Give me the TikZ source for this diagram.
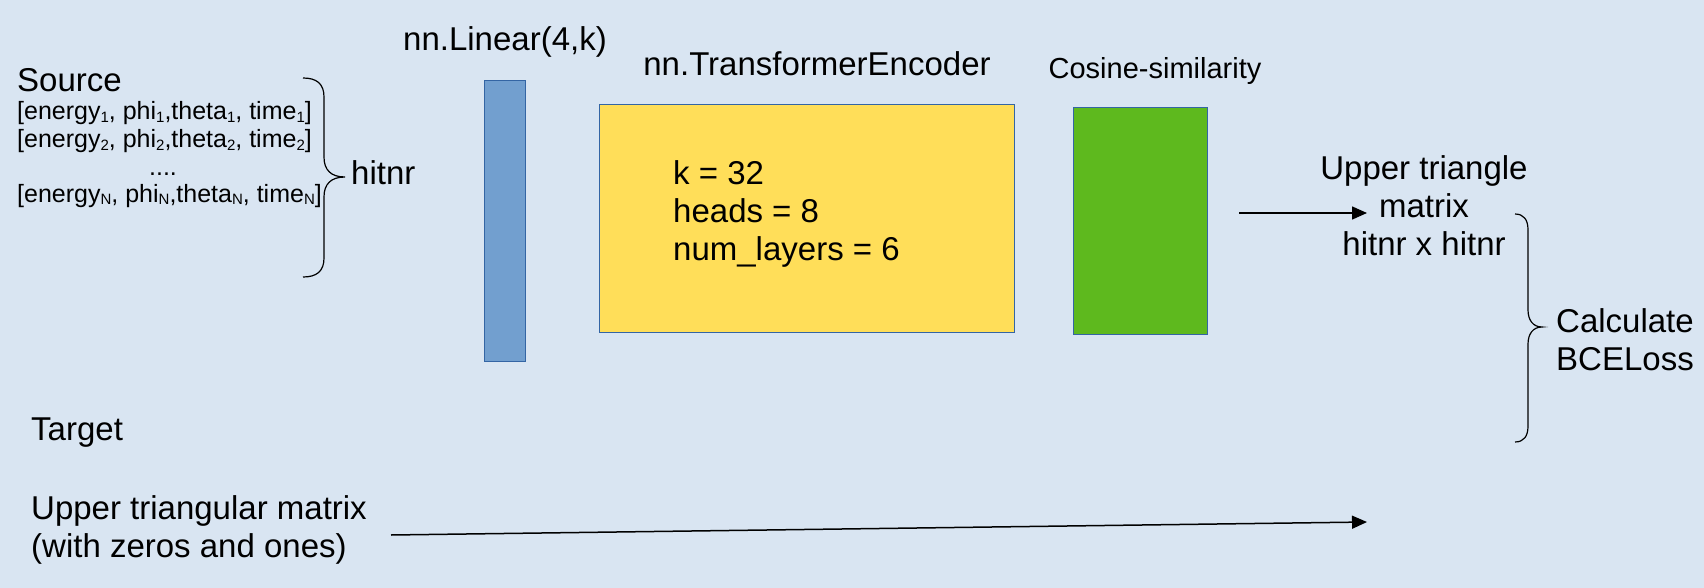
\documentclass[tikz,border=0pt]{standalone}
\usepackage{fontspec}
\setmainfont{Liberation Sans}
\usetikzlibrary{arrows.meta}
\definecolor{bg}{RGB}{217,229,242}
\definecolor{barblue}{HTML}{729FCF}
\definecolor{edgeblue}{HTML}{3465A4}
\definecolor{encyellow}{HTML}{FFDE59}
\definecolor{cosgreen}{HTML}{5EB91E}
\newcommand\sbs[1]{\raisebox{-0.1em}{\fontsize{15}{15}\selectfont #1}}
\newcommand\linesL[1]{\begin{tabular}[t]{@{}l@{}}#1\end{tabular}}
\newcommand\linesC[1]{\begin{tabular}[t]{@{}c@{}}#1\end{tabular}}
\begin{document}
\begin{tikzpicture}[x=1pt,y=-1pt,
  big/.style={font=\fontsize{33}{38}\selectfont, inner sep=0pt},
  mid/.style={font=\fontsize{29}{34}\selectfont, inner sep=0pt},
  small/.style={font=\fontsize{25}{27}\selectfont, inner sep=0pt},
  block/.style={draw=edgeblue, line width=1.3pt, inner sep=0pt, anchor=north west},
  bracepath/.style={draw, line width=1.2pt},
  arr/.style={-{Triangle[length=15pt,width=13pt]}, line width=1.5pt},
]
\fill[bg] (0,0) rectangle (1704,588);
\useasboundingbox (0,0) rectangle (1704,588);

% blocks
\node[block, fill=barblue, minimum width=41pt, minimum height=281pt] (lin) at (484,80) {};
\node[block, fill=encyellow, minimum width=415pt, minimum height=228pt] (enc) at (599,104) {};
\node[block, fill=cosgreen, minimum width=134pt, minimum height=227pt] (cos) at (1073,107) {};

% titles
\node[big, anchor=base] (lintitle) at (505,51) {nn.Linear(4,k)};
\node[big, anchor=base] (enctitle) at (817,76) {nn.TransformerEncoder};
\node[mid, anchor=base] (costitle) at (1155,79) {Cosine-similarity};

% source
\node[big, anchor=base west] (src) at (17,92) {Source};
\node[small, anchor=base west] (l1) at (17,120) {[energy\sbs1, phi\sbs1,theta\sbs1, time\sbs1]};
\node[small, anchor=base west] (l2) at (17,148) {[energy\sbs2, phi\sbs2,theta\sbs2, time\sbs2]};
\node[small, anchor=base] (ldots) at (163,176) {....};
\node[small, anchor=base west] (lN) at (17,202) {[energy\sbs{N}, phi\sbs{N},theta\sbs{N}, time\sbs{N}]};
\node[big, anchor=base west] (hit) at (351,185) {hitnr};

% left brace
\path[bracepath] (303,78) .. controls (317,78) and (324,84) .. (324,97)
  -- (324,157) .. controls (324,170) and (331,177) .. (345,177)
  .. controls (331,177) and (324,184) .. (324,197)
  -- (324,258) .. controls (324,271) and (317,277) .. (303,277);

% encoder params
\node[big, anchor=base west] (params) at (673,185) {\linesL{k = 32\\ heads = 8\\ num\_layers = 6}};

% output
\node[big, anchor=base] (upper) at (1424,180) {\linesC{Upper triangle\\ matrix\\ hitnr x hitnr}};
\coordinate (a1s) at (1239,213);
\coordinate (a1e) at (1367,213);
\draw[arr] (a1s) -- (a1e);

% right brace
\path[bracepath] (1515,214) .. controls (1524,214) and (1528,220) .. (1528,230)
  -- (1528,310) .. controls (1528,320) and (1533,327) .. (1542,327)
  .. controls (1533,327) and (1528,334) .. (1528,344)
  -- (1528,426) .. controls (1528,436) and (1524,442) .. (1515,442);
\node[big, anchor=base west] (bce) at (1556,332) {\linesL{Calculate\\ BCELoss}};

% target
\node[big, anchor=base west] (tgt) at (31,440) {Target};
\node[big, anchor=base west] (tmat) at (31,519) {\linesL{Upper triangular matrix\\ (with zeros and ones)}};
\coordinate (a2s) at (391,535);
\coordinate (a2e) at (1367,522);
\draw[arr] (a2s) -- (a2e);
\end{tikzpicture}
\end{document}
